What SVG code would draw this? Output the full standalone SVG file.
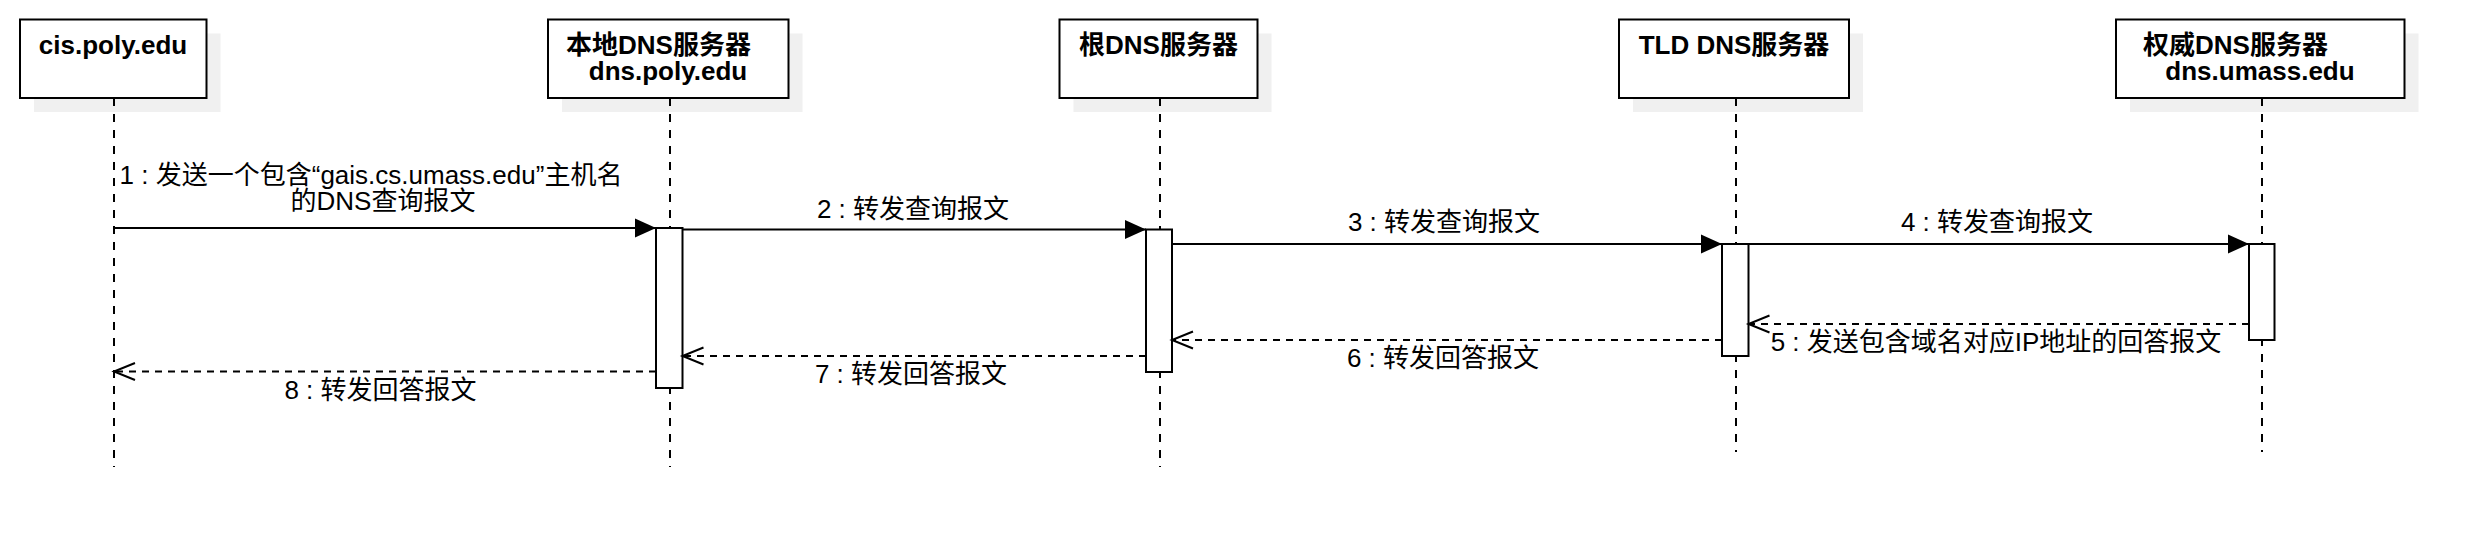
<svg xmlns="http://www.w3.org/2000/svg" width="2484" height="548" viewBox="0 0 2484 548">
<style>
.box{fill:#ffffff;stroke:#000000;stroke-width:2}
.shadow{fill:#f0f0f0;stroke:none}
.life{stroke:#000000;stroke-width:2;stroke-dasharray:8 8;fill:none}
.act{fill:#ffffff;stroke:#000000;stroke-width:2}
.msg{stroke:#000000;stroke-width:2;fill:none}
.ret{stroke:#000000;stroke-width:2;fill:none;stroke-dasharray:7 6}
.hd{font-family:"Liberation Sans","Noto Sans CJK SC",sans-serif;font-weight:bold;font-size:26px;fill:#000000}
.lb{font-family:"Liberation Sans","Noto Sans CJK SC",sans-serif;font-size:26px;fill:#000000}
.c{text-anchor:middle}
</style>
<defs>
<marker id="filled" markerUnits="userSpaceOnUse" markerWidth="22" markerHeight="20" refX="21" refY="9.5" orient="auto" overflow="visible">
<path d="M0,0 L21,9.5 L0,19 Z" fill="#000000" stroke="none"/>
</marker>
<marker id="open" markerUnits="userSpaceOnUse" markerWidth="22" markerHeight="18" refX="21" refY="8.5" orient="auto" overflow="visible">
<path d="M0,0 L21,8.5 L0,17" fill="none" stroke="#000000" stroke-width="2"/>
</marker>
</defs>

<g id="node-cis">
<rect class="shadow" x="34" y="33.5" width="186.5" height="78.5"/>
<rect class="box" x="20" y="19.5" width="186.5" height="78.5"/>
<line class="life" x1="114" y1="98" x2="114" y2="467"/>
<text class="hd c" x="113" y="54">cis.poly.edu</text>
</g>

<g id="node-local">
<rect class="shadow" x="562" y="33.5" width="240.5" height="78.5"/>
<rect class="box" x="548" y="19.5" width="240.5" height="78.5"/>
<line class="life" x1="670" y1="98" x2="670" y2="467"/>
<text class="hd" x="566" y="54">本地DNS服务器</text>
<text class="hd c" x="668" y="80">dns.poly.edu</text>
<rect class="act" x="656" y="228" width="26.5" height="160"/>
</g>

<g id="node-root">
<rect class="shadow" x="1073.5" y="33.5" width="198" height="78.5"/>
<rect class="box" x="1059.5" y="19.5" width="198" height="78.5"/>
<line class="life" x1="1160" y1="98" x2="1160" y2="467"/>
<text class="hd c" x="1158.5" y="54">根DNS服务器</text>
<rect class="act" x="1146" y="229.5" width="26" height="142.5"/>
</g>

<g id="node-tld">
<rect class="shadow" x="1633" y="33.5" width="230" height="78.5"/>
<rect class="box" x="1619" y="19.5" width="230" height="78.5"/>
<line class="life" x1="1736" y1="98" x2="1736" y2="452"/>
<text class="hd c" x="1734" y="54">TLD DNS服务器</text>
<rect class="act" x="1722" y="244" width="26.5" height="112"/>
</g>

<g id="node-auth">
<rect class="shadow" x="2130" y="33.5" width="288.5" height="78.5"/>
<rect class="box" x="2116" y="19.5" width="288.5" height="78.5"/>
<line class="life" x1="2262" y1="98" x2="2262" y2="452"/>
<text class="hd" x="2143" y="54">权威DNS服务器</text>
<text class="hd c" x="2260" y="80">dns.umass.edu</text>
<rect class="act" x="2249" y="244" width="25.5" height="96"/>
</g>

<g id="connectors">
<line class="msg" x1="114" y1="228" x2="656" y2="228" marker-end="url(#filled)"/>
<text class="lb c" x="371" y="184">1 : 发送一个包含“gais.cs.umass.edu”主机名</text>
<text class="lb c" x="383" y="210">的DNS查询报文</text>

<line class="msg" x1="682.5" y1="229.5" x2="1146" y2="229.5" marker-end="url(#filled)"/>
<text class="lb c" x="913" y="218">2 : 转发查询报文</text>

<line class="msg" x1="1172" y1="244" x2="1722" y2="244" marker-end="url(#filled)"/>
<text class="lb c" x="1444" y="231">3 : 转发查询报文</text>

<line class="msg" x1="1748.5" y1="244" x2="2249" y2="244" marker-end="url(#filled)"/>
<text class="lb c" x="1997" y="231">4 : 转发查询报文</text>

<line class="ret" x1="2249" y1="324" x2="1748.5" y2="324" marker-end="url(#open)"/>
<text class="lb c" x="1996" y="351">5 : 发送包含域名对应IP地址的回答报文</text>

<line class="ret" x1="1722" y1="340" x2="1172" y2="340" marker-end="url(#open)"/>
<text class="lb c" x="1443" y="367">6 : 转发回答报文</text>

<line class="ret" x1="1146" y1="356" x2="682.5" y2="356" marker-end="url(#open)"/>
<text class="lb c" x="911" y="383">7 : 转发回答报文</text>

<line class="ret" x1="656" y1="371.5" x2="114" y2="371.5" marker-end="url(#open)"/>
<text class="lb c" x="380.5" y="399">8 : 转发回答报文</text>
</g>
</svg>
